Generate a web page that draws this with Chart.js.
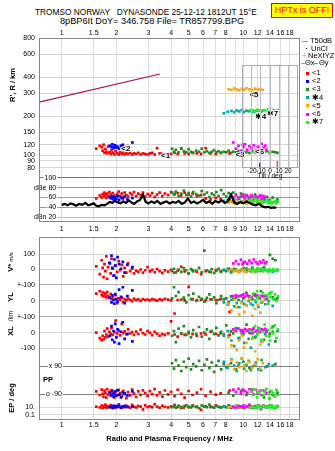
<!DOCTYPE html>
<html>
<head>
<meta charset="utf-8">
<script src="https://cdn.jsdelivr.net/npm/chart.js@4.4.0/dist/chart.umd.min.js"></script>
<style>
body { margin: 0; background: #fff; }
#wrap { position: relative; width: 335px; height: 451px; overflow: hidden; font-family: "Liberation Sans", Arial, sans-serif; color: #000; }
canvas { position: absolute; }
.t { position: absolute; white-space: pre; line-height: 10px; }
.rot { position: absolute; white-space: pre; transform: translate(-50%, -50%) rotate(-90deg); font-weight: bold; font-size: 7.5px; line-height: 9px; }
#hptx { position: absolute; left: 271px; top: 3px; width: 60px; height: 13px; background: #ffff00; border: 1px solid #ff0000; color: #ff0000; font-size: 9px; line-height: 13px; text-align: center; }
.lg { position: absolute; white-space: pre; font-size: 7.5px; line-height: 8px; }
.sq { position: absolute; width: 3px; height: 3px; }
.ln { position: absolute; height: 1px; }
</style>
</head>
<body>
<div id="wrap">
  <div class="t" style="left:35px;top:7px;font-size:8.3px">TROMSO NORWAY   DYNASONDE 25-12-12 1812UT 15°E</div>
  <div class="t" style="left:60px;top:15.5px;font-size:9.2px">8pBP6It DoY= 346.758 File= TR857799.BPG</div>
  <div id="hptx">HPTx is OFF!</div>

  <canvas id="upper" width="304" height="240" style="left:0;top:0"></canvas>
  <canvas id="lower" width="304" height="225" style="left:0;top:226px"></canvas>
  <canvas id="tilt" width="80" height="122" style="left:228px;top:58px"></canvas>

  <div class="rot" style="left:12px;top:85px">R', R / km</div>
  <div class="rot" style="left:11px;top:262px">V* <span style="font-size:6px;font-weight:normal">m/s</span></div>
  <div class="rot" style="left:10px;top:297px">YL</div>
  <div class="rot" style="left:10px;top:316px;font-weight:normal;font-size:6.5px">/km</div>
  <div class="rot" style="left:10px;top:331px">XL</div>
  <div class="rot" style="left:11px;top:398px">EP / deg</div>
  <div class="t" style="left:43px;top:375px;font-size:7.5px;font-weight:bold">PP</div>

  <div class="ln" style="left:302px;top:41px;width:6px;background:#999"></div>
  <div class="lg" style="left:310px;top:37px">T50dB</div>
  <div class="sq" style="left:306px;top:48px;width:1px;height:1px;background:#000"></div>
  <div class="lg" style="left:311px;top:44.5px">UnCl</div>
  <div class="lg" style="left:302px;top:52px;color:#f07090">+</div>
  <div class="lg" style="left:308px;top:52px">NeXtYZ</div>
  <div class="ln" style="left:301px;top:63px;width:4px;background:#f08080"></div>
  <div class="lg" style="left:305px;top:59px">Θx</div>
  <div class="ln" style="left:314px;top:63px;width:4px;background:#8080f0"></div>
  <div class="lg" style="left:319px;top:59px">Θy</div>
  <div id="legend"></div>
</div>
<script>
// frequency axis
const fMin = 0.75, fMax = 20.5;
const xTicks = [1, 1.5, 2, 3, 4, 5, 6, 7, 8, 10, 12, 14, 16, 18];
const xTicksMid = [1, 1.5, 2, 3, 4, 5, 6, 7, 8, 9, 10, 12, 14, 16, 18];

// left axes
const hTicks = [80, 90, 100, 120, 150, 200, 300, 400, 600, 800];
const dbTicks = [20, 40, 60, 80, 100];
const dbLabels = ['dBn 20', '40', '60', 'dBe 80', '100'];
const vTicks = [0, 100];
const ylTicks = [0, 100];
const ylLabels = ['0', '+-100'];
const xlTicks = [-100, 0, 100];
const xlLabels = ['-100', '0', '+-100'];
const ppTicks = [-90, 90];
const ppLabels = ['o -90', 'x 90'];
const epTicks = [0.1, 10];
const epLabels = ['0.1', '10.'];
const tiltTicks = [-20, -10, 0, 10, 20];

// echo classes
const names = ['<1', '<2', '<3', '✱4', '<5', '<6', '✱7'];
const colors = ['#ff0000', '#0000ff', '#228b22', '#00a8a8', '#ffa500', '#ff00ff', '#22ee22'];

// class 1 (red)
const f1 = [1.55, 1.62, 1.66, 1.68, 1.70, 1.72, 1.74, 1.76, 1.78, 1.80,
  1.83, 1.86, 1.88, 1.91, 1.95, 1.98, 2.02, 2.06, 2.10, 2.14,
  2.18, 2.22, 2.27, 2.32, 2.38, 2.44, 2.50, 2.57, 2.64, 2.72,
  2.80, 2.88, 2.97, 3.06, 3.15, 3.25, 3.35, 3.46, 3.58, 3.70,
  3.85, 4.00, 4.18, 4.35, 4.55, 4.75, 5.00, 5.25, 5.55, 5.85,
  6.20, 6.60, 7.05, 7.50, 8.40];
const h1 = [112, 118, 115, 108, 120, 104, 111, 106, 103, 116,
  105, 102, 109, 104, 101, 107, 103, 101, 105, 102,
  104, 101, 103, 102, 104, 101, 103, 102, 104, 101,
  103, 102, 101, 103, 104, 101, 113, 103, 102, 101,
  103, 102, 104, 102, 112, 103, 102, 104, 103, 102,
  113, 103, 102, 104, 103];
const db1 = [58, 64, 60, 67, 62, 70, 65, 59, 68, 63,
  71, 66, 61, 69, 64, 58, 67, 72, 63, 68,
  60, 70, 65, 62, 69, 66, 71, 63, 68, 65,
  70, 62, 67, 64, 69, 61, 66, 70, 63, 68,
  65, 71, 67, 69, 64, 70, 66, 68, 63, 65,
  58, 56, 59, 57, 55];
const v1 = [20, -30, 60, 10, -50, 35, -10, 85, -60, 15,
  45, -25, 70, 5, -40, 25, -15, 55, -5, 30,
  -45, 10, -20, 40, -10, 5, -25, -8, -15, 0,
  -20, -5, 15, -12, -3, -18, 2, -10, -22, -6,
  -14, -2, -20, -8, 18, -12, -25, -5, -15, -30,
  -10, -18, -4, -12, -8];
const yl1 = [45, 60, 35, 52, 28, 48, 40, 22, 55, 30,
  18, 42, 12, 25, 8, 35, -15, 15, 5, 20,
  -8, 10, 2, 14, 6, -2, 12, 4, 9, 0,
  11, 5, 8, 2, 10, 6, 1, 9, 4, 12,
  7, 3, -80, 5, 8, 2, 88, 11, 4, 7,
  3, 9, 5, 12, -70];
const xl1 = [0, -35, -48, -20, -42, 10, -30, -12, 25, -25,
  5, -8, 30, -15, 2, 75, -5, 12, -18, 55,
  -3, 8, -10, 20, -6, 3, -14, 6, -9, 18,
  -4, -12, 9, -2, -16, 4, -7, -20, -10, -15,
  -5, 70, -12, -25, -8, -14, -3, -10, -20, -6,
  -12, 5, -9, -4, -15];
const pp1 = [-72, -95, -60, -88, -105, -66, -80, -112, -58, -92,
  -75, -100, -64, -85, -110, -70, -96, -62, -82, -104,
  -68, -90, -115, -76, -98, -60, -86, -108, -72, -94,
  -65, -83, -101, -70, -89, -57, -97, -78, -106, -66,
  -91, -74, -103, -61, -87, -112, -69, -95, -80, -58,
  -100, -73, -92, -84, -66];
const ep1 = [12, 8, 25, 6, 15, 10, 40, 7, 18, 11,
  9, 30, 13, 5, 20, 8, 14, 45, 10, 6,
  16, 9, 22, 12, 7, 35, 11, 8, 19, 13,
  2.5, 27, 10, 15, 9, 50, 12, 7, 21, 11,
  8, 14, 33, 10, 6, 17, 9, 24, 12, 2,
  15, 10, 28, 8, 13];

// class 2 (blue)
const f2 = [1.84, 1.88, 1.90, 1.93, 1.95, 1.97, 2.00, 2.03, 2.07, 2.12, 2.17, 2.22, 2.30, 2.45];
const h2 = [118, 115, 121, 113, 117, 119, 114, 116, 112, 118, 120, 115, 117, 125];
const db2 = [60, 58, 62, 56, 61, 59, 57, 63, 55, 60, 58, 62, 56, 59];
const v2 = [40, 90, 10, -40, 65, 25, -55, 80, 35, 5, 50, -20, 30, 15];
const yl2 = [20, -10, 35, 5, -18, 42, 10, -5, 70, 25, 85, -15, 30, 65];
const xl2 = [-20, 40, -45, 10, -60, 55, -30, 20, -70, 5, 65, -40, -10, -55];
const pp2 = [-80, -95, -70, -105, -88, -75, -100, -65, -92, -110, -78, -85, -98, -72];
const ep2 = [10, 14, 8, 20, 12, 9, 16, 11, 25, 7, 13, 18, 10, 15];

// class 3 (green)
const f3 = [4.05, 4.15, 4.25, 4.40, 4.55, 4.70, 4.85, 5.00, 5.15, 5.30,
  5.50, 5.70, 5.90, 6.10, 6.30, 6.50, 6.70, 6.90, 7.10, 7.30,
  7.55, 7.80, 8.05, 8.30, 8.55, 8.80, 9.10, 9.40, 9.70, 10.0,
  10.4, 10.8, 11.2, 11.6, 12.0, 12.5, 13.0, 13.5, 14.0, 14.5,
  15.0, 15.4];
const h3 = [112, 106, 110, 105, 113, 107, 105, 111, 106, 104,
  108, 106, 112, 105, 107, 104, 106, 109, 105, 107,
  104, 106, 105, 108, 104, 106, 105, 107, 104, 106,
  105, 104, 107, 105, 106, 104, 105, 107, 104, 106,
  105, 104];
const db3 = [70, 66, 72, 63, 68, 74, 65, 69, 62, 71,
  67, 64, 73, 66, 70, 61, 68, 65, 71, 63,
  75, 67, 62, 69, 64, 70, 66, 60, 68, 63,
  65, 58, 62, 66, 59, 64, 57, 61, 55, 60,
  52, 56];
const v3 = [-10, 5, -20, 0, -15, 8, -5, -25, 3, -12,
  -8, 10, -18, 123, -6, -14, 2, -22, -9, 4,
  -16, -3, -11, 6, -19, -7, 1, -13, -4, 8,
  -10, -2, 12, -15, 5, -8, 15, -5, 95, 70,
  60, -3];
const yl3 = [15, 85, 30, 55, 5, 20, -10, 35, 10, 45,
  0, 25, 12, -5, 18, 40, 8, 22, -15, 5,
  30, 10, 15, -8, 28, 12, 20, 5, 35, 15,
  50, 25, 10, 40, 18, 60, 30, 12, 45, 22,
  8, 15];
const xl3 = [-20, 10, -60, 25, -5, 40, -15, 5, -30, 15,
  -10, 35, -25, 0, 20, -40, 10, -8, 30, -18,
  5, -12, 45, -22, 8, -5, 28, -35, 12, -10,
  50, -2, 18, -30, 6, 22, -45, 15, -8, 38,
  -55, 10];
const pp3 = [110, 75, 130, 95, 60, 120, 85, 140, 70, 105,
  90, 125, 65, 100, 135, 80, 115, 55, 95, 125,
  70, 105, 85, -80, 110, -100, 70, 95, -70, 120,
  -95, 80, -60, 100, -85, 65, -110, 90, -75, -95,
  105, -80];
const ep3 = [9, 14, 7, 22, 11, 6, 30, 12, 8, 17,
  10, 5, 25, 13, 9, 40, 11, 7, 19, 12,
  8, 15, 10, 28, 6, 12, 9, 20, 14, 7,
  11, 35, 8, 16, 10, 3, 13, 9, 24, 11,
  6, 18];

// class 4 (teal)
const f4 = [7.8, 8.2, 8.6, 8.9, 9.2, 9.5, 9.8, 10.1, 10.4, 10.7, 11.0, 11.3, 11.7, 12.1, 12.6, 13.2, 13.8, 14.5];
const h4 = [210, 216, 219, 214, 221, 217, 223, 215, 220, 218, 222, 216, 219, 221, 217, 220, 218, 222];
const db4 = [53, 55, 51, 56, 54, 57, 52, 55, 53, 56, 54, 51, 55, 53, 56, 52, 54, 50];
const v4 = [-5, 2, -12, 5, -8, -15, 0, -10, 8, -4, -13, 3, -7, -11, 6, -2, -9, -14];
const yl4 = [-10, -25, 5, -35, -15, -40, -5, -20, -30, 0, -18, -28, -8, -38, -12, -22, -3, -32];
const xl4 = [-20, 10, -50, -85, 25, -35, -5, -65, 15, -40, -95, 0, -25, 30, -55, -10, -75, 5];
const pp4 = [120, 80, 135, 95, 60, 110, 140, 75, 100, 125, 65, 90, 115, 70, 130, 85, 105, 95];
const ep4 = [11, 8, 16, 10, 24, 7, 13, 9, 19, 12, 6, 15, 10, 30, 8, 12, 17, 9];

// class 5 (orange)
const f5 = [8.3, 8.6, 8.9, 9.2, 9.5, 9.8, 10.1, 10.4, 10.8, 11.2, 11.6, 12.0, 12.4, 12.8];
const h5 = [322, 318, 326, 320, 316, 324, 319, 327, 321, 317, 325, 320, 323, 318];
const db5 = [50, 52, 48, 53, 49, 51, 54, 47, 52, 50, 53, 48, 51, 49];
const v5 = [-8, 3, -12, -5, -15, 0, -10, -18, -3, -9, -14, -6, 2, -11];
const yl5 = [-20, -60, 5, -40, -85, -15, -70, -30, 10, -95, -50, -25, -75, -5];
const xl5 = [-30, -80, 10, -110, -50, -20, -95, -65, 20, -40, -120, -10, -75, -55];
const pp5 = [100, 130, 70, 115, 85, 140, 95, 60, 120, 80, 105, 135, 75, 110];
const ep5 = [9, 14, 7, 20, 11, 8, 26, 12, 6, 15, 10, 18, 8, 13];

// class 6 (magenta)
const f6 = [8.8, 9.1, 9.4, 9.7, 9.9, 10.0, 10.2, 10.5, 10.8, 11.1, 11.4, 11.7, 12.0, 12.3, 12.6, 12.9, 13.2, 13.4];
const h6 = [125, 112, 118, 108, 120, 115, 121, 110, 117, 113, 119, 109, 116, 111, 122, 114, 118, 110];
const db6 = [60, 64, 58, 62, 65, 66, 59, 63, 61, 65, 57, 62, 60, 64, 58, 63, 61, 59];
const v6 = [40, 55, 35, 62, 33, 45, 50, 38, 58, 42, 65, 48, 36, 52, 44, 60, 40, 47];
const yl6 = [30, 35, 28, 32, 35, 40, 25, 34, 30, 22, 36, 29, 33, 15, 31, 27, 10, 30];
const xl6 = [20, 10, 25, 15, 12, 5, 22, 12, 18, -5, 28, 8, 16, 2, 20, 14, 24, 6];
const pp6 = [-60, -75, -55, -85, -60, -65, -70, -80, -58, -72, -90, -62, -78, -68, -95, -66, -74, -84];
const ep6 = [10, 7, 15, 12, 9, 22, 8, 13, 30, 11, 6, 17, 10, 14, 8, 25, 12, 9];

// class 7 (lime)
const f7 = [11.0, 11.3, 11.6, 11.9, 12.0, 12.2, 12.5, 12.8, 13.1, 13.4, 13.7, 13.9, 14.0, 14.3, 14.6, 14.9, 15.2, 15.5];
const h7 = [218, 221, 215, 223, 106, 219, 216, 222, 220, 217, 224, 105, 219, 221, 216, 220, 218, 222];
const db7 = [55, 52, 57, 50, 55, 54, 48, 53, 51, 56, 49, 49, 52, 47, 50, 53, 48, 51];
const v7 = [-5, 0, -12, 3, 8, -8, -3, -10, 5, -6, -14, -1, -2, -9, 1, -7, -11, -4];
const yl7 = [20, 45, 5, 60, 18, 30, -10, 50, 15, 35, -20, 45, 25, 55, 10, 40, 0, 30];
const xl7 = [10, -30, 40, -15, 0, 25, -45, 5, 50, -20, 15, -25, -50, 30, -5, 45, -35, 20];
const pp7 = [-70, -95, -60, -110, -80, -80, -65, -100, -75, -55, -90, -115, -120, -70, -85, -105, -62, -95];
const ep7 = [8, 12, 6, 18, 10, 14, 7, 22, 11, 9, 16, 13, 8, 28, 10, 6, 15, 12];

// noise level trace (dB panel)
const noiseF = [1.00, 1.04, 1.08, 1.12, 1.16, 1.20, 1.25, 1.30, 1.35, 1.40,
  1.45, 1.50, 1.55, 1.60, 1.66, 1.72, 1.78, 1.84, 1.90, 1.97,
  2.04, 2.11, 2.18, 2.26, 2.34, 2.42, 2.50, 2.60, 2.70, 2.80,
  2.90, 3.00, 3.12, 3.24, 3.36, 3.50, 3.64, 3.78, 3.92, 4.08,
  4.24, 4.40, 4.58, 4.76, 4.95, 5.15, 5.35, 5.56, 5.78, 6.00,
  6.25, 6.50, 6.75, 7.00, 7.30, 7.60, 7.90, 8.20, 8.55, 8.90,
  9.25, 9.60, 10.0, 10.4, 10.8, 11.2, 11.7, 12.2, 12.7, 13.2,
  13.7, 14.2, 14.7, 15.2];
const noiseDb = [45, 47, 44, 48, 46, 43, 47, 45, 49, 44,
  46, 48, 43, 42, 45, 44, 47, 51, 49, 53,
  50, 48, 52, 49, 54, 50, 47, 52, 55, 66,
  51, 48, 52, 49, 53, 47, 50, 52, 48, 51,
  49, 53, 47, 50, 58, 49, 52, 48, 51, 55,
  49, 52, 47, 53, 50, 54, 49, 52, 66, 50,
  47, 51, 48, 52, 49, 46, 44, 47, 42, 40,
  41, 39, 40, 39];

// reference height line
const refF = [0.75, 3.47];
const refH = [256, 422];

// trace labels in the height panel
const labelText = ['<1', '<2', '<3', '✱4', '<5', '<6', '✱7'];
const labelF = [3.52, 2.13, 9.04, 11.6, 10.8, 11.6, 13.5];
const labelH = [98, 111, 100, 196, 290, 106, 207];

// tilt inset
const tiltX = [8];
const tiltXLen = [7];
const tiltY = [-11.5];
const tiltYLen = [5];

const F = [f1, f2, f3, f4, f5, f6, f7];
const H = [h1, h2, h3, h4, h5, h6, h7];
const DB = [db1, db2, db3, db4, db5, db6, db7];
const V = [v1, v2, v3, v4, v5, v6, v7];
const YL = [yl1, yl2, yl3, yl4, yl5, yl6, yl7];
const XL = [xl1, xl2, xl3, xl4, xl5, xl6, xl7];
const PP = [pp1, pp2, pp3, pp4, pp5, pp6, pp7];
const EP = [ep1, ep2, ep3, ep4, ep5, ep6, ep7];

Chart.defaults.font.family = '"Liberation Sans", Arial, sans-serif';
Chart.defaults.color = '#000';

// legend squares
const legend = document.getElementById('legend');
names.forEach((n, i) => {
  const y = 69 + i * 8.2;
  legend.insertAdjacentHTML('beforeend',
    '<div class="sq" style="left:306px;top:' + (y + 2.5) + 'px;background:' + colors[i] + '"></div>' +
    '<div class="lg" style="left:312px;top:' + y + 'px">' + n.replace('<', '&lt;') + '</div>');
});

const pts = (xs, ys) => xs.map((x, i) => ({ x: x, y: ys[i] }));

function echoes(arr, axis) {
  return arr.map((ys, i) => ({
    type: 'scatter',
    data: pts(F[i], ys),
    yAxisID: axis,
    backgroundColor: colors[i],
    borderWidth: 0,
    pointStyle: 'rect',
    pointRadius: 1.9,
    order: 10 - i
  }));
}

const frame = {
  id: 'frame',
  afterDraw(chart, args, opts) {
    const a = chart.chartArea;
    const ctx = chart.ctx;
    ctx.save();
    ctx.strokeStyle = opts.color || '#888';
    ctx.lineWidth = 1;
    ctx.strokeRect(Math.round(a.left) + 0.5, Math.round(a.top) + 0.5,
      Math.round(a.right - a.left) - 1, Math.round(a.bottom - a.top) - 1);
    ctx.restore();
  }
};

const traceLabels = {
  id: 'traceLabels',
  afterDatasetsDraw(chart) {
    const ctx = chart.ctx;
    const sx = chart.scales.x, sy = chart.scales.h;
    ctx.save();
    ctx.font = 'bold 8px "Liberation Sans", "DejaVu Sans", sans-serif';
    ctx.textBaseline = 'middle';
    ctx.lineWidth = 2;
    ctx.strokeStyle = '#fff';
    ctx.fillStyle = '#000';
    labelText.forEach((t, i) => {
      const x = sx.getPixelForValue(labelF[i]);
      const y = sy.getPixelForValue(labelH[i]);
      ctx.strokeText(t, x, y);
      ctx.fillText(t, x, y);
    });
    ctx.restore();
  }
};

const tickFont = { size: 7 };
const setTicks = list => s => { s.ticks = list.map(v => ({ value: v })); };
const labelFrom = (list, labels) => v => labels[list.indexOf(v)];

function freqAxis(pos, list, height, pad) {
  return {
    type: 'logarithmic', position: pos, min: fMin, max: fMax,
    afterBuildTicks: setTicks(list),
    afterFit: s => { s.height = height; },
    ticks: { autoSkip: false, maxRotation: 0, padding: pad, font: tickFont, callback: v => String(v) },
    grid: { display: pos === 'bottom', color: '#dcdce4', drawTicks: false },
    border: { display: false }
  };
}

function leftAxis(extra) {
  const base = {
    position: 'left',
    afterFit: s => { s.width = 39; },
    grid: { color: '#d4d4d4', drawTicks: false },
    border: { display: false }
  };
  const out = Object.assign(base, extra);
  out.ticks = Object.assign({ padding: 4, font: tickFont, autoSkip: false }, extra.ticks || {});
  return out;
}

// labels drawn inside the frame, right aligned
const insideTicks = (pad, cb) => ({
  mirror: true, crossAlign: 'far', padding: pad, callback: cb,
  showLabelBackdrop: true, backdropColor: '#fff', backdropPadding: { left: 1, right: 1, top: 0, bottom: 0 }
});

// upper chart: heights and amplitudes
new Chart(document.getElementById('upper'), {
  type: 'scatter',
  data: {
    datasets: [
      { type: 'line', data: pts(refF, refH), yAxisID: 'h', borderColor: '#a3173f', borderWidth: 1.2, pointRadius: 0, order: 20 },
      ...echoes(H, 'h'),
      { type: 'line', data: pts(noiseF, noiseDb), yAxisID: 'db', borderColor: '#000', borderWidth: 2.2, pointRadius: 0, order: 0 },
      ...echoes(DB, 'db')
    ]
  },
  options: {
    responsive: false,
    animation: false,
    layout: { padding: { left: 0, right: 2, top: 0, bottom: 0 } },
    plugins: { legend: { display: false }, tooltip: { enabled: false }, frame: { color: '#888' } },
    scales: {
      x: freqAxis('bottom', xTicksMid, 18, 3),
      xt: freqAxis('top', xTicks, 38, 1),
      h: leftAxis({
        type: 'logarithmic', stack: 'up', stackWeight: 134, weight: 2, min: 74, max: 800,
        afterBuildTicks: setTicks(hTicks),
        ticks: { callback: v => String(v) }
      }),
      db: leftAxis({
        type: 'linear', stack: 'up', stackWeight: 50, weight: 1, min: 10, max: 112,
        afterBuildTicks: setTicks(dbTicks),
        ticks: insideTicks(-5, labelFrom(dbTicks, dbLabels)),
        grid: { drawTicks: false, color: c => c.tick && c.tick.value === 20 ? '#b4b4ff' : (c.tick && c.tick.value === 100 ? '#777' : '#9a9a9a') }
      })
    }
  },
  plugins: [frame, traceLabels]
});

// lower chart: drift velocity, location, polarisation
new Chart(document.getElementById('lower'), {
  type: 'scatter',
  data: {
    datasets: [
      ...echoes(V, 'v'),
      ...echoes(YL, 'yl'),
      ...echoes(XL, 'xl'),
      ...echoes(PP, 'pp'),
      ...echoes(EP, 'ep')
    ]
  },
  options: {
    responsive: false,
    animation: false,
    layout: { padding: { left: 0, right: 2, top: 10, bottom: 0 } },
    plugins: { legend: { display: false }, tooltip: { enabled: false }, frame: { color: '#888' } },
    scales: {
      x: Object.assign(freqAxis('bottom', xTicks, 31, 1), {
        title: { display: true, text: 'Radio and Plasma Frequency / MHz', font: { size: 7.5, weight: 'bold' }, padding: { top: 0, bottom: 7.5 } }
      }),
      v: leftAxis({
        type: 'linear', stack: 'lo', stackWeight: 48, weight: 5, min: -100, max: 210,
        afterBuildTicks: setTicks(vTicks)
      }),
      yl: leftAxis({
        type: 'linear', stack: 'lo', stackWeight: 32, weight: 4, min: -100, max: 100,
        afterBuildTicks: setTicks(ylTicks),
        ticks: { callback: labelFrom(ylTicks, ylLabels) },
        grid: { drawTicks: false, color: c => c.tick && c.tick.value === 100 ? '#b0b0b0' : '#d4d4d4' }
      }),
      xl: leftAxis({
        type: 'linear', stack: 'lo', stackWeight: 36, weight: 3, min: -125, max: 100,
        afterBuildTicks: setTicks(xlTicks),
        ticks: { callback: labelFrom(xlTicks, xlLabels) },
        grid: { drawTicks: false, color: c => c.tick && c.tick.value === 100 ? '#b0b0b0' : '#d4d4d4' }
      }),
      pp: leftAxis({
        type: 'linear', stack: 'lo', stackWeight: 50, weight: 2, min: -141, max: 180,
        afterBuildTicks: setTicks(ppTicks),
        ticks: insideTicks(7, labelFrom(ppTicks, ppLabels)),
        grid: { drawTicks: false, color: '#808080' }
      }),
      ep: leftAxis({
        type: 'logarithmic', stack: 'lo', stackWeight: 18, weight: 1, min: 0.005, max: 180,
        afterBuildTicks: setTicks(epTicks),
        ticks: { callback: labelFrom(epTicks, epLabels) },
        grid: { drawTicks: false, color: '#d8d8d8' }
      })
    }
  },
  plugins: [frame]
});

// tilt inset
new Chart(document.getElementById('tilt'), {
  type: 'line',
  data: {
    datasets: [
      { data: [{ x: tiltX[0], y: 0 }, { x: tiltX[0], y: tiltXLen[0] }], borderColor: '#ff2020', borderWidth: 1.2, pointRadius: 0 },
      { data: [{ x: tiltY[0], y: 0 }, { x: tiltY[0], y: tiltYLen[0] }], borderColor: '#2020ff', borderWidth: 1.2, pointRadius: 0 }
    ]
  },
  options: {
    responsive: false,
    animation: false,
    layout: { padding: { left: 14, right: 10, top: 7, bottom: 0 } },
    plugins: { legend: { display: false }, tooltip: { enabled: false }, frame: { color: '#a8a8c0' } },
    scales: {
      x: {
        type: 'linear', min: -31, max: 31,
        afterBuildTicks: setTicks(tiltTicks),
        afterFit: s => { s.height = 12; },
        ticks: { font: { size: 6.5 }, padding: -1, maxRotation: 0, autoSkip: false },
        grid: { color: '#b8b8cc', drawTicks: false },
        border: { display: false },
        title: { display: true, text: 'Tilt / deg', font: { size: 6.5 }, padding: 0 }
      },
      y: { display: false, min: 0, max: 100 }
    }
  },
  plugins: [frame]
});
</script>
</body>
</html>
